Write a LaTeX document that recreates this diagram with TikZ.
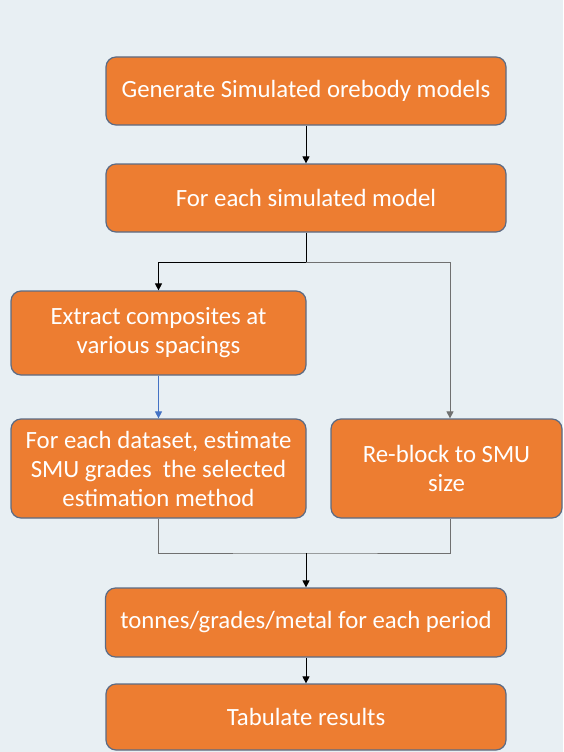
\documentclass[tikz,border=0pt]{standalone}
\usepackage{fontspec}
\setmainfont{Carlito}
\usetikzlibrary{arrows.meta,calc}
\definecolor{bgc}{HTML}{E8EFF3}
\definecolor{boxfill}{HTML}{ED7D31}
\definecolor{boxline}{HTML}{5B6B85}
\definecolor{lineblue}{HTML}{4472C4}
\definecolor{linegrey}{HTML}{707070}
\begin{document}
\begin{tikzpicture}[x=1pt,y=-1pt,
  procbox/.style={draw=boxline,line width=1.2pt,fill=boxfill,rounded corners=10pt,
    text=white,align=center,inner sep=2pt,font=\fontsize{24.8}{29}\selectfont},
  conn/.style={line width=0.9pt,-{Triangle[width=7pt,length=7pt]}},
  plain/.style={line width=0.9pt}]
\fill[bgc] (0,0) rectangle (563,752);
\useasboundingbox (0,0) rectangle (563,752);
\node[procbox,minimum width=400pt,minimum height=68pt] (b1) at (306,91) {Generate Simulated orebody models};
\node[procbox,minimum width=400pt,minimum height=68pt] (b2) at (306,198) {For each simulated model};
\node[procbox,minimum width=295pt,minimum height=84pt] (b3) at (158.5,333) {Extract composites at\\various spacings};
\node[procbox,minimum width=295pt,minimum height=99pt] (b4) at (158.5,468.5) {For each dataset, estimate\\SMU grades\ \ the selected\\estimation method};
\node[procbox,minimum width=231pt,minimum height=99pt] (b5) at (446.5,468.5) {Re-block to SMU\\size};
\node[procbox,minimum width=401pt,minimum height=69pt] (b6) at (306,622.5) {tonnes/grades/metal for each period};
\node[procbox,minimum width=400pt,minimum height=66pt] (b7) at (306,717) {Tabulate results};
\coordinate (j1) at (306,262);
\coordinate (r1) at (450,262);
\coordinate (j2) at (306,553);
\draw[conn] (b1) -- (b2);
\draw[conn,black] (b2.south) -- (j1) -| (b3.north);
\draw[conn,linegrey] (j1) -- (r1) -- (r1 |- b5.north);
\draw[conn,lineblue] (b3) -- (b4);
\draw[plain,linegrey] (b4.south) |- (j2) -| (b5.south -| r1);
\draw[conn] (j2) -- (b6);
\draw[conn] (b6) -- (b7);
\end{tikzpicture}
\end{document}
